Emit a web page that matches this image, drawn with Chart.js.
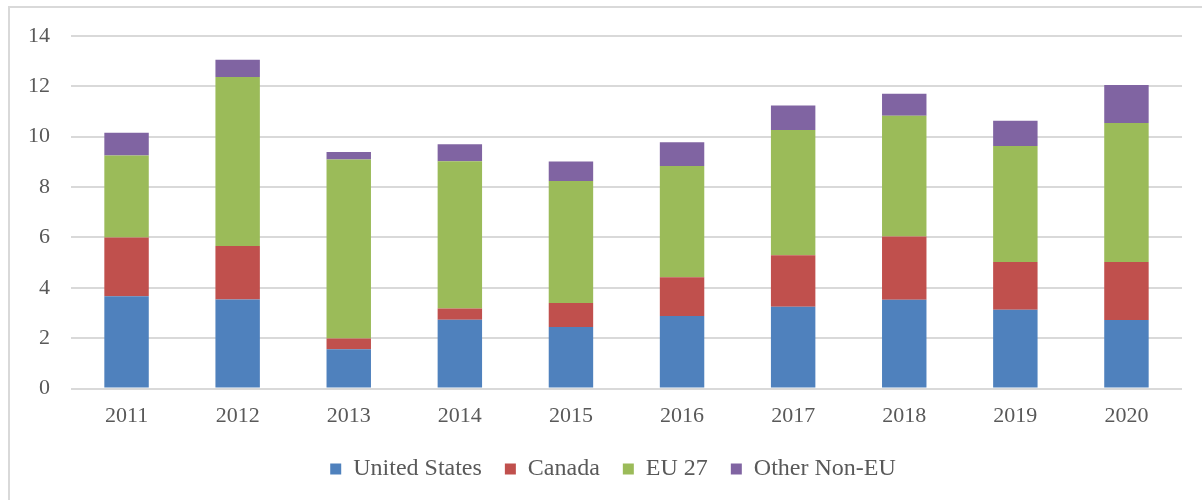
<!DOCTYPE html>
<html>
<head>
<meta charset="utf-8">
<script src="https://cdn.jsdelivr.net/npm/chart.js@4.4.1/dist/chart.umd.min.js"></script>
<style>
  html, body { margin: 0; padding: 0; background: #ffffff; overflow: hidden; }
  #wrap { position: relative; width: 1202px; height: 500px; }
  #frameLeft { position: absolute; left: 8px; top: 6px; width: 2px; height: 500px; background: #d9d9d9; }
  #frameTop { position: absolute; left: 8px; top: 6px; width: 1200px; height: 2px; background: #d9d9d9; }
  #c { position: absolute; left: 0; top: 0; }
</style>
</head>
<body>
<div id="wrap">
  <div id="frameLeft"></div>
  <div id="frameTop"></div>
  <canvas id="c" width="1202" height="500" style="width:1202px;height:500px"></canvas>
</div>
<script>
const categories = ['2011', '2012', '2013', '2014', '2015', '2016', '2017', '2018', '2019', '2020'];
const unitedStates = [3.66, 3.53, 1.56, 2.73, 2.44, 2.88, 3.25, 3.52, 3.13, 2.72];
const canada       = [2.34, 2.13, 0.43, 0.45, 0.96, 1.54, 2.04, 2.52, 1.89, 2.30];
const eu27         = [3.25, 6.71, 7.11, 5.85, 4.84, 4.42, 4.98, 4.79, 4.61, 5.52];
const otherNonEU   = [0.91, 0.69, 0.29, 0.67, 0.78, 0.94, 0.97, 0.88, 1.00, 1.51];
const yTicks = [0, 2, 4, 6, 8, 10, 12, 14];

const seriesNames = ['United States', 'Canada', 'EU 27', 'Other Non-EU'];
const seriesData = [unitedStates, canada, eu27, otherNonEU];
const seriesColors = ['#4F81BD', '#C0504D', '#9BBB59', '#8064A2'];

const FONT = "'Liberation Serif', 'Times New Roman', serif";

new Chart(document.getElementById('c'), {
  type: 'bar',
  data: {
    labels: categories,
    datasets: seriesNames.map((name, i) => ({
      label: name,
      data: seriesData[i],
      backgroundColor: seriesColors[i],
      borderWidth: 0,
      barPercentage: 0.4,
      categoryPercentage: 1.0,
      xAxisID: 'x',
      yAxisID: 'y'
    }))
  },
  options: {
    responsive: false,
    animation: false,
    devicePixelRatio: 1,
    layout: { padding: { left: 28, right: 4, top: 36, bottom: 9 } },
    plugins: {
      tooltip: { enabled: false },
      title: { display: false },
      legend: {
        position: 'bottom',
        align: 'center',
        labels: {
          boxWidth: 11,
          boxHeight: 11,
          padding: 23,
          color: '#595959',
          font: { family: FONT, size: 24 }
        }
      }
    },
    scales: {
      x: {
        stacked: true,
        grid: { display: false, drawTicks: false },
        border: { display: false },
        ticks: {
          color: '#595959',
          padding: 15,
          font: { family: FONT, size: 22 },
          maxRotation: 0
        },
        afterFit: (s) => { s.height = 45.5; }
      },
      y: {
        position: 'left',
        stacked: true,
        min: 0,
        max: 14,
        afterBuildTicks: (s) => { s.ticks = yTicks.map(v => ({ value: v })); },
        grid: { color: '#d9d9d9', lineWidth: 2, drawTicks: false },
        border: { display: false },
        ticks: {
          color: '#595959',
          padding: 21,
          font: { family: FONT, size: 22 }
        },
        afterFit: (s) => { s.width = 43; }
      },
      y2: {
        position: 'right',
        display: true,
        grid: { display: false, drawTicks: false },
        border: { display: false },
        ticks: { display: false },
        afterFit: (s) => { s.width = 16; }
      }
    }
  }
});
</script>
</body>
</html>
